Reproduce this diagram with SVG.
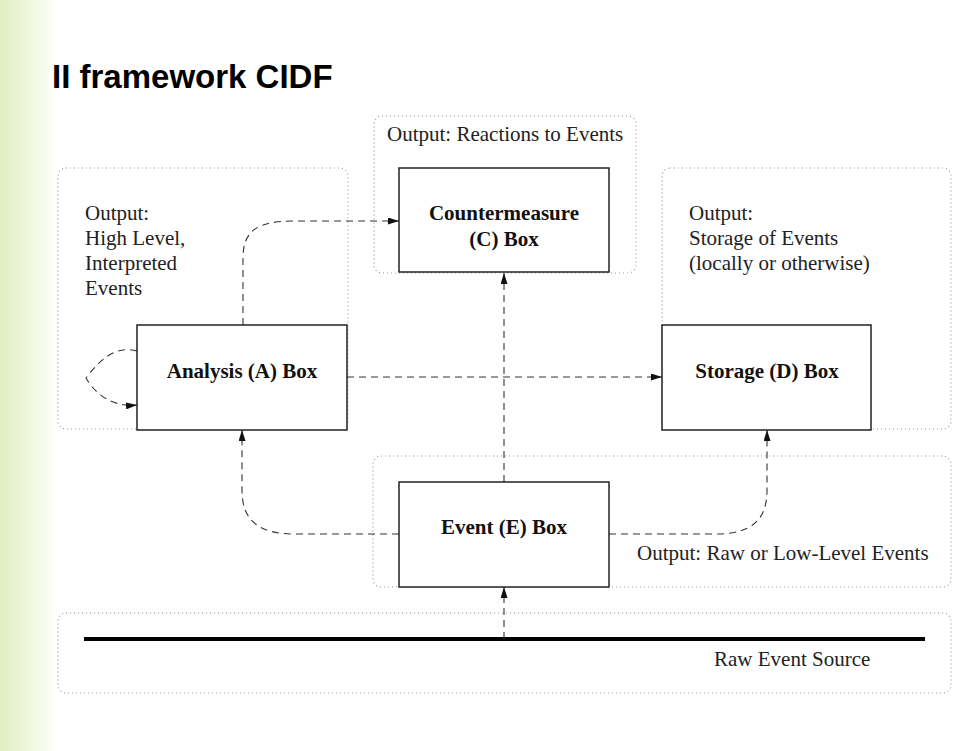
<svg xmlns="http://www.w3.org/2000/svg" width="960" height="751" viewBox="0 0 960 751">
<defs>
<linearGradient id="side" x1="0" y1="0" x2="1" y2="0">
<stop offset="0" stop-color="#e0eec0"/>
<stop offset="0.5" stop-color="#eff7dc"/>
<stop offset="1" stop-color="#ffffff"/>
</linearGradient>
<marker id="arr" viewBox="0 0 11 7" refX="11" refY="3.5" markerWidth="11" markerHeight="7" markerUnits="userSpaceOnUse" orient="auto">
<path d="M0,0 L11,3.5 L0,7 Z" fill="#111"/>
</marker>
<style>
.grp{fill:none;stroke:#999;stroke-width:1.2;stroke-dasharray:1 3}
.box{fill:#fff;stroke:#222;stroke-width:1.5}
.conn{fill:none;stroke:#333;stroke-width:1.1;stroke-dasharray:7 5}
.lbl{font-family:"Liberation Serif","Times New Roman",serif;font-size:21px;fill:#222}
.bold{font-family:"Liberation Serif","Times New Roman",serif;font-size:21px;font-weight:bold;fill:#111;text-anchor:middle}
</style>
</defs>
<rect x="0" y="0" width="960" height="751" fill="#fff"/>
<rect x="0" y="0" width="58" height="751" fill="url(#side)"/>
<text x="52" y="88" font-family="Liberation Sans, Arial, sans-serif" font-size="33" font-weight="bold" fill="#000">II framework CIDF</text>

<g id="group-C"><rect class="grp" x="374" y="116" width="262" height="157" rx="8"/>
<text class="lbl" x="387" y="141">Output: Reactions to Events</text></g>
<g id="group-A"><rect class="grp" x="58" y="168" width="290" height="261" rx="8"/>
<text class="lbl" x="85" y="220">Output:</text>
<text class="lbl" x="85" y="245">High Level,</text>
<text class="lbl" x="85" y="270">Interpreted</text>
<text class="lbl" x="85" y="295">Events</text></g>
<g id="group-D"><rect class="grp" x="662" y="168" width="289" height="261" rx="8"/>
<text class="lbl" x="689" y="220">Output:</text>
<text class="lbl" x="689" y="245">Storage of Events</text>
<text class="lbl" x="689" y="270">(locally or otherwise)</text></g>
<g id="group-E"><rect class="grp" x="373" y="456" width="578" height="131" rx="8"/>
<text class="lbl" x="637" y="560">Output: Raw or Low-Level Events</text></g>
<g id="group-source"><rect class="grp" x="58" y="613" width="893" height="80" rx="8"/>
<line x1="84" y1="639" x2="925" y2="639" stroke="#000" stroke-width="4"/>
<text class="lbl" x="714" y="666">Raw Event Source</text></g>

<g id="connectors">
<path class="conn" d="M504,482 V273" marker-end="url(#arr)"/>
<path class="conn" d="M504,639 V587" marker-end="url(#arr)"/>
<path class="conn" d="M347,377 H662" marker-end="url(#arr)"/>
<path class="conn" d="M243,325 V258 C243,230 258,221 295,221 H399" marker-end="url(#arr)"/>
<path class="conn" d="M399,534 H295 C258,534 242,520 242,490 V430" marker-end="url(#arr)"/>
<path class="conn" d="M609,534 H715 C752,534 767,520 767,490 V430" marker-end="url(#arr)"/>
<path class="conn" d="M137,351 C115,345 100,360 86,378 C96,395 112,407 137,405" marker-end="url(#arr)"/>
</g>

<g id="node-C"><rect class="box" x="399" y="168" width="210" height="104"/>
<text class="bold" x="504" y="220">Countermeasure</text>
<text class="bold" x="504" y="246">(C) Box</text></g>
<g id="node-A"><rect class="box" x="137" y="325" width="210" height="105"/>
<text class="bold" x="242" y="378">Analysis (A) Box</text></g>
<g id="node-D"><rect class="box" x="662" y="325" width="209" height="105"/>
<text class="bold" x="767" y="378">Storage (D) Box</text></g>
<g id="node-E"><rect class="box" x="399" y="482" width="210" height="105"/>
<text class="bold" x="504" y="534">Event (E) Box</text></g>
</svg>
